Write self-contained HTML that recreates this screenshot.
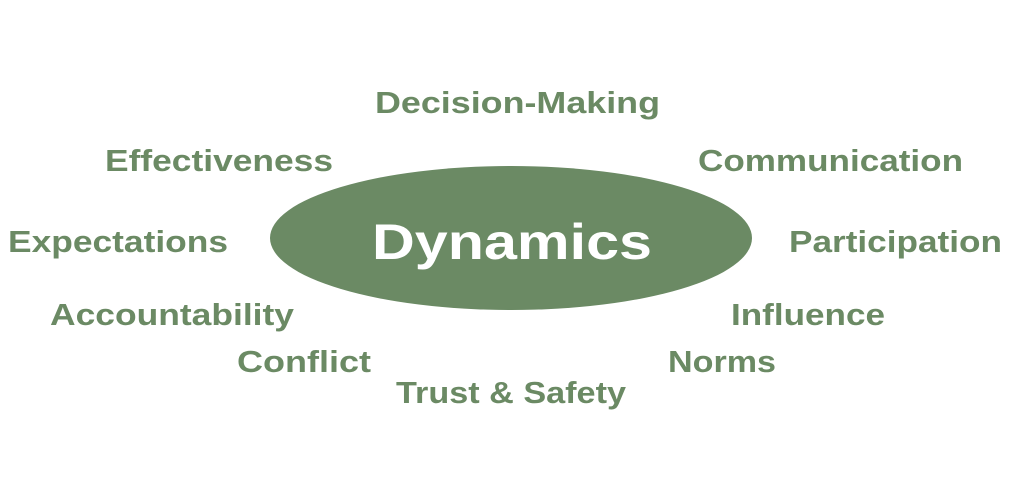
<!DOCTYPE html>
<html><head><meta charset="utf-8"><style>
html,body{margin:0;padding:0;background:#fff;width:1024px;height:503px;overflow:hidden}
text{font-family:"Liberation Sans",sans-serif;font-weight:bold;fill:#6b8a64}
</style></head><body>
<svg width="1024" height="503" viewBox="0 0 1024 503">
<ellipse cx="511" cy="238" rx="241" ry="72" fill="#6b8a64"/>
<text x="372" y="259" font-size="50" textLength="280" lengthAdjust="spacingAndGlyphs" style="fill:#fff">Dynamics</text>
<text x="375" y="113" font-size="31" textLength="285" lengthAdjust="spacingAndGlyphs">Decision-Making</text>
<text x="105" y="171" font-size="31" textLength="228" lengthAdjust="spacingAndGlyphs">Effectiveness</text>
<text x="698" y="171" font-size="31" textLength="265" lengthAdjust="spacingAndGlyphs">Communication</text>
<text x="8" y="252" font-size="31" textLength="220" lengthAdjust="spacingAndGlyphs">Expectations</text>
<text x="789" y="252" font-size="31" textLength="213" lengthAdjust="spacingAndGlyphs">Participation</text>
<text x="50" y="325" font-size="31" textLength="244" lengthAdjust="spacingAndGlyphs">Accountability</text>
<text x="731" y="325" font-size="31" textLength="154" lengthAdjust="spacingAndGlyphs">Influence</text>
<text x="237" y="372" font-size="31" textLength="134" lengthAdjust="spacingAndGlyphs">Conflict</text>
<text x="668" y="372" font-size="31" textLength="108" lengthAdjust="spacingAndGlyphs">Norms</text>
<text x="396" y="403" font-size="31" textLength="230" lengthAdjust="spacingAndGlyphs">Trust &amp; Safety</text>
</svg>
</body></html>
